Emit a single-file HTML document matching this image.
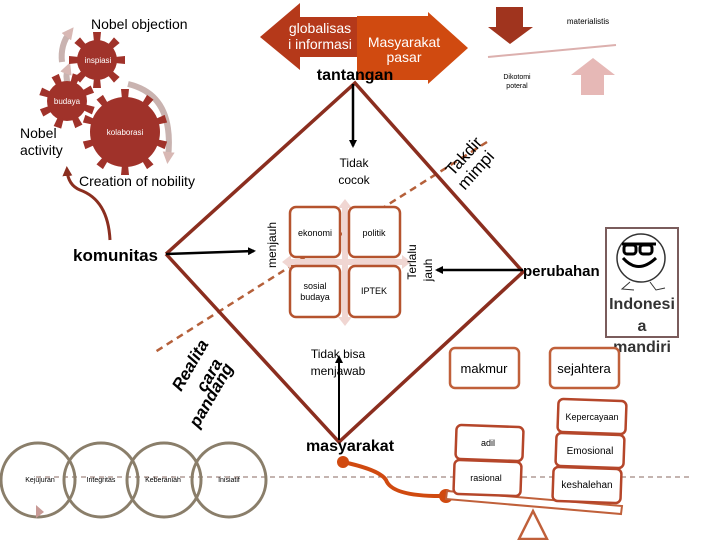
<!DOCTYPE html>
<html><head><meta charset="utf-8"><style>
html,body{margin:0;padding:0;background:#fff;}
svg{display:block;font-family:"Liberation Sans",sans-serif;}
</style></head><body>
<svg width="720" height="540" viewBox="0 0 720 540" xmlns="http://www.w3.org/2000/svg">
<defs>
<marker id="ah" markerWidth="8" markerHeight="8" refX="6" refY="4" orient="auto" markerUnits="userSpaceOnUse"><path d="M0,0 L8,4 L0,8 Z" fill="#000"/></marker>
<marker id="ahb" markerWidth="10" markerHeight="10" refX="6" refY="5" orient="auto" markerUnits="userSpaceOnUse"><path d="M0,0 L10,5 L0,10 Z" fill="#8B2E1F"/></marker>
<marker id="ahp" markerWidth="12" markerHeight="12" refX="6" refY="6" orient="auto" markerUnits="userSpaceOnUse"><path d="M0,0 L12,6 L0,12 Z" fill="#d8b8b4"/></marker>
</defs>

<!-- gear-surrounding pale arrows -->
<path d="M80,100 Q62,84 68,68" stroke="#c9b3b0" stroke-width="6" fill="none" marker-end="url(#ahp)"/>
<path d="M62,62 Q60,45 70,32" stroke="#c9b3b0" stroke-width="6" fill="none" marker-end="url(#ahp)"/>
<path d="M128,84 Q175,95 168,158" stroke="#c9b3b0" stroke-width="6" fill="none" marker-end="url(#ahp)"/>
<path d="M110,240 Q108,200 80,190 Q68,185 67,170" stroke="#8B2E1F" stroke-width="3" fill="none" marker-end="url(#ahb)"/>

<!-- gears -->
<g fill="#A0322A">
<circle cx="97" cy="60" r="20"/>
<g transform="translate(97,60)"><path d="M-4,-28 L4,-28 L3,-18 L-3,-18Z" transform="rotate(0)"/><path d="M-4,-28 L4,-28 L3,-18 L-3,-18Z" transform="rotate(45)"/><path d="M-4,-28 L4,-28 L3,-18 L-3,-18Z" transform="rotate(90)"/><path d="M-4,-28 L4,-28 L3,-18 L-3,-18Z" transform="rotate(135)"/><path d="M-4,-28 L4,-28 L3,-18 L-3,-18Z" transform="rotate(180)"/><path d="M-4,-28 L4,-28 L3,-18 L-3,-18Z" transform="rotate(225)"/><path d="M-4,-28 L4,-28 L3,-18 L-3,-18Z" transform="rotate(270)"/><path d="M-4,-28 L4,-28 L3,-18 L-3,-18Z" transform="rotate(315)"/></g>
<circle cx="67" cy="101" r="20"/>
<g transform="translate(67,101)"><path d="M-4,-28 L4,-28 L3,-18 L-3,-18Z" transform="rotate(20)"/><path d="M-4,-28 L4,-28 L3,-18 L-3,-18Z" transform="rotate(65)"/><path d="M-4,-28 L4,-28 L3,-18 L-3,-18Z" transform="rotate(110)"/><path d="M-4,-28 L4,-28 L3,-18 L-3,-18Z" transform="rotate(155)"/><path d="M-4,-28 L4,-28 L3,-18 L-3,-18Z" transform="rotate(200)"/><path d="M-4,-28 L4,-28 L3,-18 L-3,-18Z" transform="rotate(245)"/><path d="M-4,-28 L4,-28 L3,-18 L-3,-18Z" transform="rotate(290)"/><path d="M-4,-28 L4,-28 L3,-18 L-3,-18Z" transform="rotate(335)"/></g>
<circle cx="125" cy="132" r="35"/>
<g transform="translate(125,132)"><path d="M-4,-43 L4,-43 L3,-33 L-3,-33Z" transform="rotate(0)"/><path d="M-4,-43 L4,-43 L3,-33 L-3,-33Z" transform="rotate(36)"/><path d="M-4,-43 L4,-43 L3,-33 L-3,-33Z" transform="rotate(72)"/><path d="M-4,-43 L4,-43 L3,-33 L-3,-33Z" transform="rotate(108)"/><path d="M-4,-43 L4,-43 L3,-33 L-3,-33Z" transform="rotate(144)"/><path d="M-4,-43 L4,-43 L3,-33 L-3,-33Z" transform="rotate(180)"/><path d="M-4,-43 L4,-43 L3,-33 L-3,-33Z" transform="rotate(216)"/><path d="M-4,-43 L4,-43 L3,-33 L-3,-33Z" transform="rotate(252)"/><path d="M-4,-43 L4,-43 L3,-33 L-3,-33Z" transform="rotate(288)"/><path d="M-4,-43 L4,-43 L3,-33 L-3,-33Z" transform="rotate(324)"/></g>
</g>
<g fill="#fff" font-size="8" text-anchor="middle">
<text x="98" y="63">inspiasi</text><text x="67" y="104">budaya</text><text x="125" y="135">kolaborasi</text>
</g>
<g font-size="14" fill="#000">
<text x="91" y="29">Nobel objection</text>
<text x="20" y="138">Nobel</text><text x="20" y="155">activity</text>
<text x="79" y="186">Creation of nobility</text>
</g>
<text x="73" y="261" font-size="17" font-weight="bold">komunitas</text>

<!-- top arrows -->
<path d="M260,37 L300,3 L300,17 L370,17 L370,57 L300,57 L300,70 Z" fill="#B5391A"/>
<path d="M357,16 L428,16 L428,12 L468,48 L428,84 L428,80 L357,80 Z" fill="#D04A10"/>
<text x="320" y="33" font-size="14" fill="#fff" text-anchor="middle">globalisas</text>
<text x="320" y="49" font-size="14" fill="#fff" text-anchor="middle">i informasi</text>
<text x="404" y="47" font-size="14" fill="#fff" text-anchor="middle">Masyarakat</text>
<text x="404" y="62" font-size="14" fill="#fff" text-anchor="middle">pasar</text>
<text x="355" y="80" font-size="16" font-weight="bold" text-anchor="middle">tantangan</text>

<!-- top right -->
<path d="M496,7 L523,7 L523,27 L533,27 L510,44 L488,27 L496,27 Z" fill="#A0341E"/>
<line x1="488" y1="57" x2="616" y2="45" stroke="#dcb0ae" stroke-width="2"/>
<path d="M593,58 L615,75 L604,75 L604,95 L581,95 L581,75 L571,75 Z" fill="#e6b8b6"/>
<text x="588" y="24" font-size="8" text-anchor="middle">materialistis</text>
<text x="517" y="79" font-size="7" text-anchor="middle">Dikotomi</text>
<text x="517" y="88" font-size="7" text-anchor="middle">poteral</text>

<!-- dashed diagonal -->
<line x1="487" y1="142" x2="155" y2="352" stroke="#b5603a" stroke-width="2.5" stroke-dasharray="7,5"/>

<!-- diamond -->
<polyline points="166,254 355,83 523,272 339,442 166,254" fill="none" stroke="#8B2E1F" stroke-width="3.5"/>

<!-- cross pale arrows -->
<g stroke="#f0d6d2" stroke-width="6" fill="#f0d6d2">
<line x1="345" y1="205" x2="345" y2="320"/><line x1="288" y1="262" x2="405" y2="262"/>
</g>
<g fill="#f0d6d2">
<path d="M338,208 L345,199 L352,208Z"/><path d="M338,317 L345,326 L352,317Z"/>
<path d="M291,255 L282,262 L291,269Z"/><path d="M402,255 L411,262 L402,269Z"/>
</g>
<g fill="#fff" stroke="#b5532e" stroke-width="2.5">
<rect x="290" y="207" width="50" height="50" rx="6"/><rect x="349" y="207" width="51" height="50" rx="6"/>
<rect x="290" y="266" width="50" height="51" rx="6"/><rect x="349" y="266" width="51" height="51" rx="6"/>
</g>
<g font-size="9" text-anchor="middle">
<text x="315" y="236">ekonomi</text><text x="374" y="236">politik</text>
<text x="315" y="289">sosial</text><text x="315" y="300">budaya</text><text x="374" y="294">IPTEK</text>
</g>

<!-- arrows -->
<line x1="353" y1="84" x2="353" y2="146" stroke="#000" stroke-width="2.5" marker-end="url(#ah)"/>
<line x1="166" y1="254" x2="254" y2="251" stroke="#000" stroke-width="2.5" marker-end="url(#ah)"/>
<line x1="523" y1="270" x2="437" y2="270" stroke="#000" stroke-width="2.5" marker-end="url(#ah)"/>
<line x1="339" y1="440" x2="339" y2="357" stroke="#000" stroke-width="2" marker-end="url(#ah)"/>

<g font-size="12" text-anchor="middle">
<text x="354" y="167">Tidak</text><text x="354" y="184">cocok</text>
<text x="338" y="358">Tidak bisa</text><text x="338" y="375">menjawab</text>
</g>
<text transform="translate(276,245) rotate(-90)" font-size="12" text-anchor="middle">menjauh</text>
<text transform="translate(416,262) rotate(-90)" font-size="12" text-anchor="middle">Terlalu</text>
<text transform="translate(432,270) rotate(-90)" font-size="12" text-anchor="middle">jauh</text>
<text x="523" y="276" font-size="15" font-weight="bold">perubahan</text>

<text transform="translate(468,160) rotate(-48)" font-size="17" text-anchor="middle">Takdir</text>
<text transform="translate(480,174) rotate(-48)" font-size="17" text-anchor="middle">mimpi</text>
<g font-size="17" font-weight="bold" font-style="italic" text-anchor="middle">
<text transform="translate(195,368) rotate(-60)">Realita</text>
<text transform="translate(214,378) rotate(-60)">cara</text>
<text transform="translate(216,398) rotate(-60)">pandang</text>
</g>

<!-- smiley -->
<rect x="606" y="228" width="72" height="109" fill="#fff" stroke="#7a5c5c" stroke-width="2"/>
<circle cx="641" cy="258" r="24" fill="#fff" stroke="#333" stroke-width="1.5"/>
<rect x="624" y="245" width="12" height="9" rx="3" fill="none" stroke="#000" stroke-width="3"/>
<rect x="640" y="245" width="12" height="9" rx="3" fill="none" stroke="#000" stroke-width="3"/>
<line x1="622" y1="244" x2="656" y2="244" stroke="#000" stroke-width="3"/>
<path d="M623,258 Q638,275 656,258" fill="none" stroke="#000" stroke-width="3"/>
<path d="M630,282 L622,289 L634,290" fill="none" stroke="#333"/>
<path d="M650,282 L656,290 L665,288" fill="none" stroke="#333"/>
<g font-size="16" font-weight="bold" fill="#333" text-anchor="middle">
<text x="642" y="309">Indonesi</text><text x="642" y="331">a</text><text x="642" y="352">mandiri</text>
</g>

<g fill="#fff" stroke="#c0603a" stroke-width="2.5">
<rect x="450" y="348" width="69" height="40" rx="5"/><rect x="550" y="348" width="69" height="40" rx="5"/>
</g>
<text x="484" y="373" font-size="13" text-anchor="middle">makmur</text>
<text x="584" y="373" font-size="13" text-anchor="middle">sejahtera</text>

<!-- scale -->
<line x1="36" y1="477" x2="690" y2="477" stroke="#8a6a60" stroke-width="1" stroke-dasharray="5,4"/>
<path d="M343,462 Q380,470 386,480 Q392,497 446,496" fill="none" stroke="#D04A10" stroke-width="4"/>
<circle cx="343" cy="462" r="6" fill="#D04A10"/><circle cx="446" cy="496" r="7" fill="#D04A10"/>
<polygon points="447,491 622,506 621,514 446,499" fill="#fff" stroke="#c0603a" stroke-width="2"/>
<polygon points="533,511 519,539 547,539" fill="#fff" stroke="#c0603a" stroke-width="2.5"/>
<g fill="#fff" stroke="#b5462a" stroke-width="2.5">
<rect x="456" y="426" width="67" height="34" rx="5" transform="rotate(2 489 443)"/>
<rect x="454" y="461" width="67" height="34" rx="5" transform="rotate(2 487 478)"/>
<rect x="558" y="400" width="68" height="33" rx="5" transform="rotate(2 592 416)"/>
<rect x="556" y="434" width="68" height="33" rx="5" transform="rotate(2 590 450)"/>
<rect x="553" y="468" width="68" height="34" rx="5" transform="rotate(2 587 485)"/>
</g>
<g font-size="9" text-anchor="middle">
<text x="488" y="446">adil</text><text x="486" y="481">rasional</text>
<text x="592" y="420">Kepercayaan</text><text x="590" y="454" font-size="10">Emosional</text><text x="587" y="488" font-size="10">keshalehan</text>
</g>
<text x="350" y="451" font-size="16" font-weight="bold" text-anchor="middle">masyarakat</text>

<!-- circles -->
<g fill="none" stroke="#8a7e6a" stroke-width="3">
<circle cx="38" cy="480" r="37"/><circle cx="101" cy="480" r="37"/><circle cx="164" cy="480" r="37"/><circle cx="229" cy="480" r="37"/>
</g>
<g font-size="7" text-anchor="middle">
<text x="40" y="482">Kejujuran</text><text x="101" y="482">Integritas</text><text x="163" y="482">Keberaniah</text><text x="229" y="482">Inisiatif</text>
</g>
<path d="M36,505 L44,512 L36,518 Z" fill="#c89a96"/>
</svg>
</body></html>
